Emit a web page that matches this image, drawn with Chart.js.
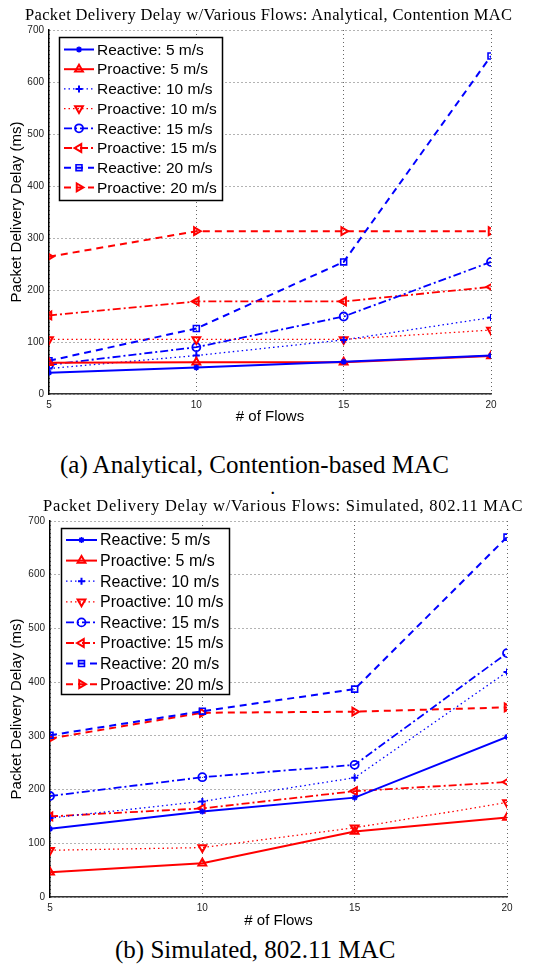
<!DOCTYPE html>
<html>
<head>
<meta charset="utf-8">
<title>Packet Delivery Delay w/Various Flows</title>
<script src="https://cdn.jsdelivr.net/npm/chart.js@4.4.1/dist/chart.umd.min.js"></script>
<style>
    body { margin: 0; background: #fff; width: 546px; height: 971px; position: relative; overflow: hidden; }
    .plot { position: absolute; left: 0; }
    .title { position: absolute; font-family: "Liberation Serif", serif; font-size: 16.5px; color: #000; white-space: nowrap; line-height: 1; }
    .caption { position: absolute; font-family: "Liberation Serif", serif; font-size: 25px; color: #000; white-space: nowrap; line-height: 1; }
    .stray { position: absolute; left: 271px; top: 482px; font-family: "Liberation Serif", serif; font-size: 14px; font-weight: bold; }
</style>
</head>
<body>

<div class="plot" style="top:0px"><canvas id="chartA" width="546" height="432"></canvas></div>
<div class="title" style="left:25px; top:7px; letter-spacing:0.35px">Packet Delivery Delay w/Various Flows: Analytical, Contention MAC</div>
<div class="caption" style="left:60px; top:452px">(a) Analytical, Contention-based MAC</div>

<div class="stray">.</div>
<div class="plot" style="top:492px"><canvas id="chartB" width="546" height="440"></canvas></div>
<div class="title" style="left:43px; top:498px; letter-spacing:0.75px">Packet Delivery Delay w/Various Flows: Simulated, 802.11 MAC</div>
<div class="caption" style="left:115px; top:937px">(b) Simulated, 802.11 MAC</div>

<script>
// x 轴: 流数量
const flows = [5, 10, 15, 20];
const yTicks = [0, 100, 200, 300, 400, 500, 600, 700];

const seriesLabels = [
    'Reactive: 5 m/s', 'Proactive: 5 m/s',
    'Reactive: 10 m/s', 'Proactive: 10 m/s',
    'Reactive: 15 m/s', 'Proactive: 15 m/s',
    'Reactive: 20 m/s', 'Proactive: 20 m/s'
];

// (a) Analytical, Contention-based MAC
const anaReactive5 = [41, 51, 62, 74];
const anaProactive5 = [60, 61, 61, 73];
const anaReactive10 = [49, 74, 104, 147];
const anaProactive10 = [105, 105, 105, 123];
const anaReactive15 = [56, 90, 149, 254];
const anaProactive15 = [151, 178, 178, 206];
const anaReactive20 = [64, 126, 254, 650];
const anaProactive20 = [264, 313, 313, 313];

// (b) Simulated, 802.11 MAC
const simReactive5 = [127, 159, 185, 298];
const simProactive5 = [46, 63, 122, 148];
const simReactive10 = [147, 178, 222, 419];
const simProactive10 = [87, 92, 129, 176];
const simReactive15 = [188, 223, 246, 454];
const simProactive15 = [150, 165, 197, 214];
const simReactive20 = [301, 346, 387, 670];
const simProactive20 = [295, 343, 345, 353];

const BLUE = '#0000ff';
const RED = '#ff0000';
const NONE = 'rgba(255,255,255,0)';

// 每条曲线的样式 (MATLAB 风格)
const styles = [
    { color: BLUE, dash: [], width: 2, point: 'star', rot: 0, r: 3, pw: 1.5, fill: BLUE },
    { color: RED, dash: [], width: 2, point: 'triangle', rot: 0, r: 4.5, pw: 2, fill: NONE },
    { color: BLUE, dash: [1.5, 3], width: 1.3, point: 'cross', rot: 0, r: 3.5, pw: 2, fill: BLUE },
    { color: RED, dash: [1.5, 3], width: 1.3, point: 'triangle', rot: 180, r: 4.5, pw: 2, fill: NONE },
    { color: BLUE, dash: [8, 3, 2, 3], width: 1.8, point: 'circle', rot: 0, r: 4, pw: 1.8, fill: NONE },
    { color: RED, dash: [8, 3, 2, 3], width: 1.8, point: 'triangle', rot: 270, r: 4.5, pw: 2, fill: NONE },
    { color: BLUE, dash: [7, 5], width: 2, point: 'rect', rot: 0, r: 4.2, pw: 1.6, fill: NONE },
    { color: RED, dash: [7, 5], width: 2, point: 'triangle', rot: 90, r: 4.5, pw: 2, fill: NONE }
];

function buildDatasets(seriesList) {
    return seriesList.map((values, i) => {
        const s = styles[i];
        return {
            label: seriesLabels[i],
            data: values.map((v, k) => ({ x: flows[k], y: v })),
            borderColor: s.color,
            borderWidth: s.width,
            borderDash: s.dash,
            pointStyle: s.point,
            pointRotation: s.rot,
            pointRadius: s.r,
            pointBorderWidth: s.pw,
            pointBorderColor: s.color,
            pointBackgroundColor: s.fill,
            fill: false,
            tension: 0
        };
    });
}

// 图例画在绘图区内部左上角
const insideLegend = {
    id: 'insideLegend',
    afterDatasetsDraw(chart, args, opts) {
        const { ctx, chartArea } = chart;
        const x0 = Math.round(chartArea.left + opts.dx);
        const y0 = Math.round(chartArea.top + opts.dy);
        ctx.save();
        ctx.fillStyle = '#fff';
        ctx.fillRect(x0, y0, opts.w, opts.h);
        ctx.strokeStyle = '#000';
        ctx.lineWidth = 1.5;
        ctx.strokeRect(x0 + 0.5, y0 + 0.5, opts.w, opts.h);

        chart.data.datasets.forEach((ds, i) => {
            const y = y0 + opts.first + i * opts.rowH;
            const lx = x0 + opts.lineX;
            ctx.setLineDash(ds.borderDash);
            ctx.strokeStyle = ds.borderColor;
            ctx.lineWidth = ds.borderWidth;
            ctx.beginPath();
            ctx.moveTo(lx, y);
            ctx.lineTo(lx + opts.lineLen, y);
            ctx.stroke();
            ctx.setLineDash([]);

            ctx.fillStyle = ds.pointBackgroundColor;
            ctx.strokeStyle = ds.pointBorderColor;
            ctx.lineWidth = ds.pointBorderWidth;
            if (Chart.helpers && Chart.helpers.drawPoint) {
                Chart.helpers.drawPoint(ctx, {
                    pointStyle: ds.pointStyle,
                    rotation: ds.pointRotation,
                    radius: ds.pointRadius,
                    borderWidth: ds.pointBorderWidth
                }, lx + opts.lineLen / 2, y);
            }

            ctx.fillStyle = '#000';
            ctx.font = opts.font;
            ctx.textBaseline = 'middle';
            ctx.textAlign = 'left';
            ctx.fillText(ds.label, x0 + opts.textX, y + 1);
        });
        ctx.restore();
    }
};

function makeChart(id, seriesList, geo) {
    const ctx = document.getElementById(id).getContext('2d');
    return new Chart(ctx, {
        type: 'line',
        data: { datasets: buildDatasets(seriesList) },
        plugins: [insideLegend],
        options: {
            responsive: false,
            animation: false,
            layout: { padding: { left: 0, right: geo.padRight, top: geo.padTop, bottom: 0 } },
            plugins: {
                legend: { display: false },
                tooltip: { enabled: false },
                title: { display: false },
                insideLegend: geo.legend
            },
            scales: {
                x: {
                    type: 'linear',
                    min: 5,
                    max: 20,
                    afterBuildTicks: axis => { axis.ticks = flows.map(v => ({ value: v })); },
                    afterFit: axis => { axis.height = geo.xAxisH; },
                    grid: { color: '#666', lineWidth: 1, drawTicks: false },
                    border: { color: '#333', width: 1.5, dash: [1, 3] },
                    ticks: { color: '#222', padding: 5, font: { family: 'Liberation Sans', size: 10 } },
                    title: {
                        display: true,
                        text: '# of Flows',
                        color: '#000',
                        font: { family: 'Liberation Sans', size: 15 },
                        padding: { top: 0, bottom: geo.xTitleBottom }
                    }
                },
                y: {
                    min: 0,
                    max: 700,
                    afterBuildTicks: axis => { axis.ticks = yTicks.map(v => ({ value: v })); },
                    afterFit: axis => { axis.width = geo.yAxisW; },
                    grid: { color: '#666', lineWidth: 1, drawTicks: false },
                    border: { color: '#000', width: 1.5, dash: [1, 3] },
                    ticks: { color: '#222', padding: 5, font: { family: 'Liberation Sans', size: 10 } },
                    title: {
                        display: true,
                        text: 'Packet Delivery Delay (ms)',
                        color: '#000',
                        font: { family: 'Liberation Sans', size: 15 },
                        padding: { top: 8, bottom: 0 }
                    }
                }
            }
        }
    });
}

makeChart('chartA',
    [anaReactive5, anaProactive5, anaReactive10, anaProactive10,
     anaReactive15, anaProactive15, anaReactive20, anaProactive20],
    {
        padRight: 55, padTop: 30, xAxisH: 38, xTitleBottom: 6, yAxisW: 49,
        legend: { dx: 10, dy: 7, w: 163, h: 163, first: 12.5, rowH: 19.7, lineX: 5, lineLen: 30, textX: 38, font: '15.5px "Liberation Sans"' }
    });

makeChart('chartB',
    [simReactive5, simProactive5, simReactive10, simProactive10,
     simReactive15, simProactive15, simReactive20, simProactive20],
    {
        padRight: 39, padTop: 29, xAxisH: 35, xTitleBottom: 2, yAxisW: 50,
        legend: { dx: 11, dy: 7, w: 168, h: 166, first: 12, rowH: 20.6, lineX: 5, lineLen: 31, textX: 39, font: '16px "Liberation Sans"' }
    });
</script>
</body>
</html>
